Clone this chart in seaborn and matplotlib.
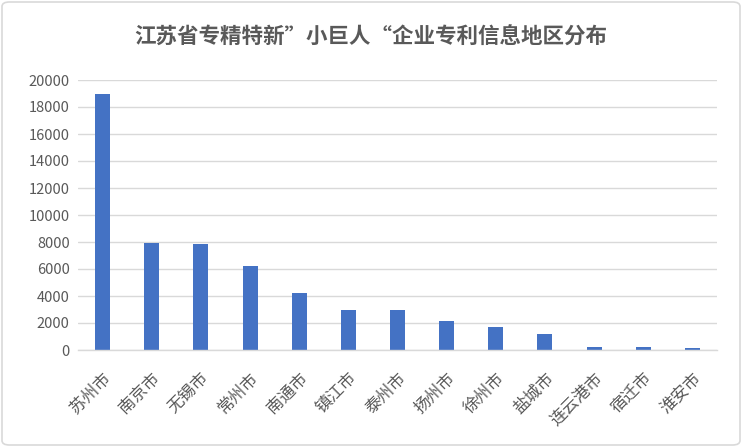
import matplotlib
matplotlib.use("Agg")
import matplotlib.pyplot as plt
import seaborn as sns
import pandas as pd
from matplotlib.patches import FancyBboxPatch

cities = ["苏州市", "南京市", "无锡市", "常州市", "南通市", "镇江市", "泰州市",
          "扬州市", "徐州市", "盐城市", "连云港市", "宿迁市", "淮安市"]
patents = [19000, 7950, 7870, 6200, 4230, 3000, 3000, 2170, 1720, 1150, 230, 230, 170]
yticks = [0, 2000, 4000, 6000, 8000, 10000, 12000, 14000, 16000, 18000, 20000]
title = "江苏省专精特新”小巨人“企业专利信息地区分布"

sns.set_theme(style="white")
plt.rcParams['font.family'] = ['Noto Sans CJK SC', 'DejaVu Sans']

df = pd.DataFrame({"city": cities, "patents": patents})

fig = plt.figure(figsize=(7.42, 4.47), dpi=100)
ax = fig.add_axes([78/742, 1 - 350/447, (717-78)/742, 270/447])

sns.barplot(data=df, x="city", y="patents", color="#4472C4", width=0.305,
            saturation=1, ax=ax, edgecolor="none")

ax.set_ylim(0, 20000)
ax.set_xlim(-0.5, len(cities) - 0.5)
ax.set_yticks(yticks)
ax.set_yticklabels([str(v) for v in yticks], color="#595959", fontsize=10.5)
ax.yaxis.grid(True, color="#D9D9D9", linewidth=1)
ax.set_axisbelow(True)
for s in ["top", "right", "left"]:
    ax.spines[s].set_visible(False)
ax.spines["bottom"].set_color("#D9D9D9")
ax.spines["bottom"].set_linewidth(1)
ax.tick_params(axis="y", length=0, pad=6)
ax.tick_params(axis="x", length=0, pad=14)
ax.set_xlabel("")
ax.set_ylabel("")
ax.set_xticks(range(len(cities)))
ax.set_xticklabels(cities, rotation=45, ha="right", rotation_mode="anchor",
                   color="#595959", fontsize=12)

fig.text(0.5, 1 - 37/447, title, ha="center", va="center", fontsize=15.5,
         fontweight="bold", color="#595959")

border = FancyBboxPatch((2/742, 2/447), 738/742, 443/447,
                        boxstyle="round,pad=0,rounding_size=0.01",
                        transform=fig.transFigure, facecolor="none",
                        edgecolor="#D9D9D9", linewidth=1.2)
fig.patches.append(border)

fig.savefig("out.png", dpi=100)
